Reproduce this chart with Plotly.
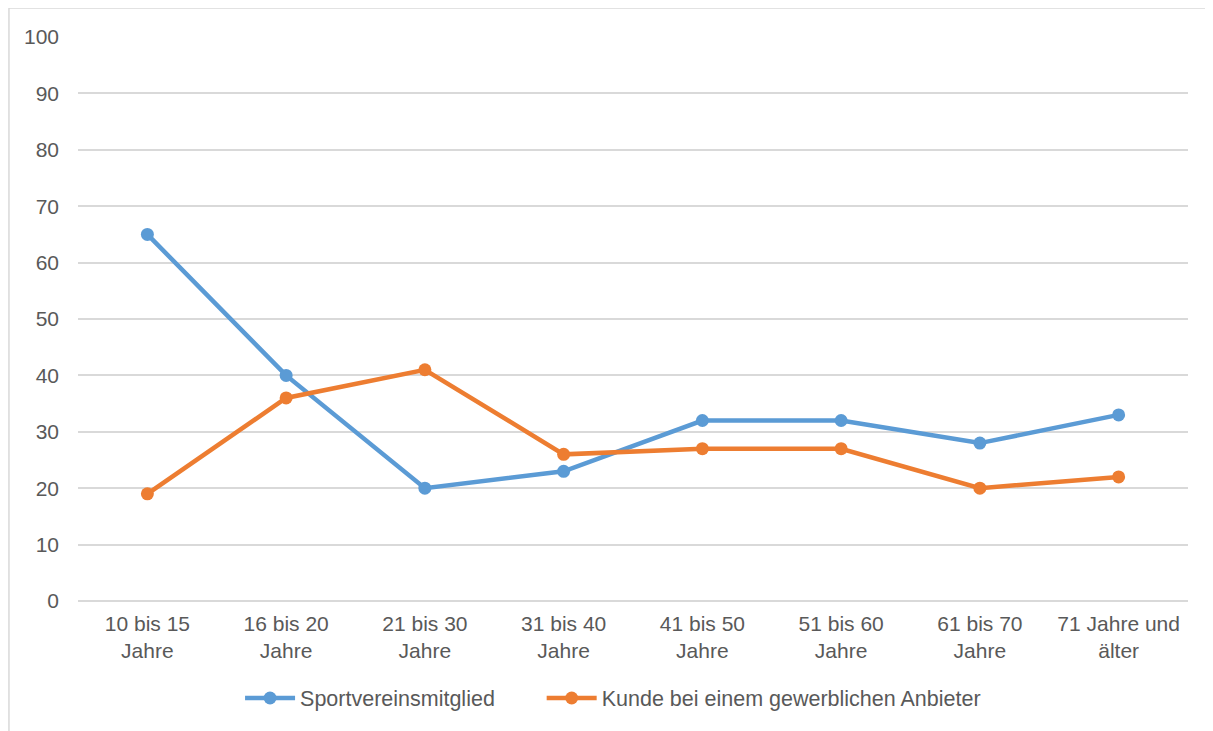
import plotly.graph_objects as go

categories = ["10 bis 15<br>Jahre", "16 bis 20<br>Jahre", "21 bis 30<br>Jahre", "31 bis 40<br>Jahre",
              "41 bis 50<br>Jahre", "51 bis 60<br>Jahre", "61 bis 70<br>Jahre", "71 Jahre und<br>älter"]
sportverein = [65, 40, 20, 23, 32, 32, 28, 33]
kunde = [19, 36, 41, 26, 27, 27, 20, 22]

names = ["Sportvereinsmitglied" + "\u00a0" * 7, "Kunde bei einem gewerblichen Anbieter"]
colors = ["#5B9BD5", "#ED7D31"]

fig = go.Figure()
for name, vals, col in zip(names, [sportverein, kunde], colors):
    fig.add_trace(go.Scatter(
        x=categories, y=vals, name=name, mode="lines+markers",
        line=dict(color=col, width=4.5),
        marker=dict(color=col, size=13),
    ))

fig.update_layout(
    width=1213, height=731,
    margin=dict(l=70, r=33, t=29, b=138),
    paper_bgcolor="white", plot_bgcolor="white",
    font=dict(family="Liberation Sans, Arial, sans-serif", size=21, color="#595959"),
    showlegend=True,
    legend=dict(orientation="h", x=0.146, xanchor="left", y=-0.172, yanchor="middle",
                font=dict(size=21.5, color="#595959"), itemwidth=50, tracegroupgap=0),
    xaxis=dict(showgrid=False, showline=False, ticks="", tickfont=dict(size=21), ticklabelstandoff=8,
               range=[-0.5, len(categories) - 0.5]),
    yaxis=dict(range=[0, 100], dtick=10, showgrid=True, gridcolor="#D9D9D9", gridwidth=1.5,
               zeroline=True, zerolinecolor="#D9D9D9", zerolinewidth=1.5, showline=False,
               ticks="", ticklabelstandoff=18, tickfont=dict(size=21)),
    shapes=[dict(type="rect", xref="paper", yref="paper", x0=-0.0622, x1=1.017, y0=-0.26, y1=1.0514,
                 line=dict(color="#D9D9D9", width=1.5), fillcolor="rgba(0,0,0,0)", layer="below")],
)

fig.write_html("out.html")
